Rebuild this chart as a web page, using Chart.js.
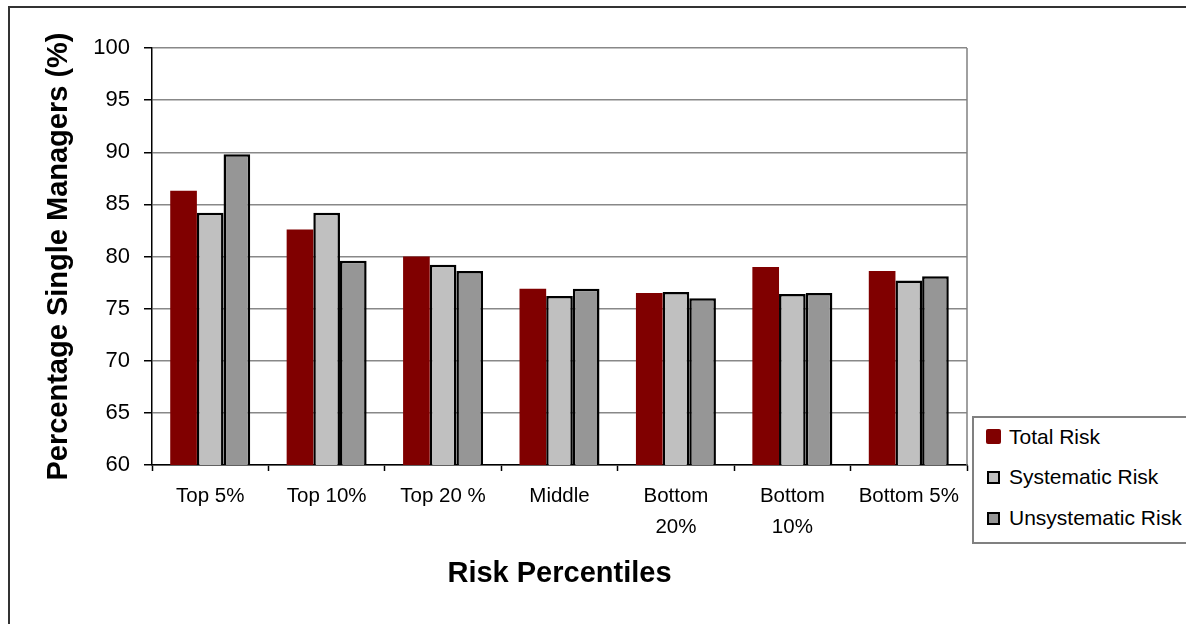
<!DOCTYPE html>
<html>
<head>
<meta charset="utf-8">
<script src="https://cdn.jsdelivr.net/npm/chart.js@4/dist/chart.umd.min.js"></script>
<style>
  html, body { margin: 0; padding: 0; background: #fff; overflow: hidden; }
  #wrap { position: relative; width: 1186px; height: 624px; font-family: "Liberation Sans", Arial, sans-serif; }
  #c { position: absolute; left: 0; top: 0; }
  #frame { position: absolute; left: 8px; top: 6px; width: 1200px; height: 700px; border: 2px solid #333; pointer-events: none; }
  #legend { position: absolute; left: 972px; top: 416px; width: 240px; height: 124px; border: 2px solid #808080; background: #fff; }
  .item { position: absolute; left: 0; height: 30px; color: #000; white-space: nowrap; }
  .sw { position: absolute; box-sizing: border-box; }
  .txt { position: absolute; left: 35px; line-height: 30px; top: 0; }
</style>
</head>
<body>
<div id="wrap">
  <canvas id="c" width="1186" height="624"></canvas>
  <div id="frame"></div>
  <div id="legend"></div>
</div>
<script>
const categories = ["Top 5%", "Top 10%", "Top 20 %", "Middle", ["Bottom", "20%"], ["Bottom", "10%"], "Bottom 5%"];
const seriesNames = ["Total Risk", "Systematic Risk", "Unsystematic Risk"];
const totalRisk = [86.3, 82.6, 80.0, 76.9, 76.5, 79.0, 78.6];
const systematicRisk = [84.2, 84.2, 79.2, 76.2, 76.6, 76.4, 77.7];
const unsystematicRisk = [89.8, 79.6, 78.6, 76.9, 76.0, 76.5, 78.1];
const yTicks = { min: 60, max: 100, step: 5 };

const colors = ["#800000", "#C0C0C0", "#969696"];
const borders = [0, 2.5, 2.5];

const FONT = "'Liberation Sans', Arial, sans-serif";

const plotBorder = {
  id: "plotBorder",
  afterDraw(chart) {
    const { ctx, chartArea } = chart;
    ctx.save();
    ctx.strokeStyle = "#808080";
    ctx.lineWidth = 1.5;
    ctx.beginPath();
    ctx.moveTo(chartArea.right, chartArea.top);
    ctx.lineTo(chartArea.right, chartArea.bottom);
    ctx.stroke();
    ctx.restore();
  }
};

const datasets = [totalRisk, systematicRisk, unsystematicRisk].map((d, i) => ({
  label: seriesNames[i],
  data: d,
  backgroundColor: colors[i],
  borderColor: "#000",
  borderWidth: borders[i],
  borderSkipped: false,
  categoryPercentage: 0.687,
  barPercentage: 1.0
}));

new Chart(document.getElementById("c"), {
  type: "bar",
  data: { labels: categories, datasets },
  plugins: [plotBorder],
  options: {
    responsive: false,
    animation: false,
    devicePixelRatio: 1,
    layout: { padding: { left: 0, top: 48, right: 219, bottom: 0 } },
    plugins: { legend: { display: false }, tooltip: { enabled: false } },
    scales: {
      x: {
        afterFit(scale) { scale.height = 159; },
        grid: { display: true, drawOnChartArea: false, offset: true, tickLength: 6, tickColor: "#000", tickWidth: 1.5 },
        border: { display: true, color: "#000", width: 1.5 },
        ticks: { color: "#000", padding: 10, maxRotation: 0, autoSkip: false, font: { family: FONT, size: 20.5, lineHeight: 1.5 } },
        title: { display: true, text: "Risk Percentiles", color: "#000", font: { family: FONT, size: 29, weight: "bold", lineHeight: 1.2 }, padding: { top: 0, bottom: 33 } }
      },
      y: {
        min: yTicks.min,
        max: yTicks.max,
        afterFit(scale) { scale.width = 152; },
        grid: { color: "#888", lineWidth: 1.5, tickLength: 8, tickColor: "#000", tickWidth: 1.5 },
        border: { display: true, color: "#000", width: 1.5 },
        ticks: { stepSize: yTicks.step, color: "#000", padding: 14, font: { family: FONT, size: 22 } },
        title: { display: true, text: "Percentage Single Managers (%)", color: "#000", font: { family: FONT, size: 29, weight: "bold", lineHeight: 1.2 }, padding: { top: 42, bottom: 0 } }
      }
    }
  }
});

// HTML legend built from the series arrays
const legend = document.getElementById("legend");
const rowTops = [4, 44, 85];
seriesNames.forEach((name, i) => {
  const item = document.createElement("div");
  item.className = "item";
  item.style.top = rowTops[i] + "px";
  item.style.width = "240px";
  const sw = document.createElement("div");
  sw.className = "sw";
  if (i === 0) {
    sw.style.cssText = "left:12px;top:7px;width:15px;height:15px;border-radius:2px;background:" + colors[i] + ";";
  } else {
    sw.style.cssText = "left:13px;top:9px;width:13px;height:13px;border:2px solid #000;background:" + colors[i] + ";";
  }
  const t = document.createElement("div");
  t.className = "txt";
  t.textContent = name;
  t.style.fontSize = "21px";
  item.appendChild(sw);
  item.appendChild(t);
  legend.appendChild(item);
});
</script>
</body>
</html>
